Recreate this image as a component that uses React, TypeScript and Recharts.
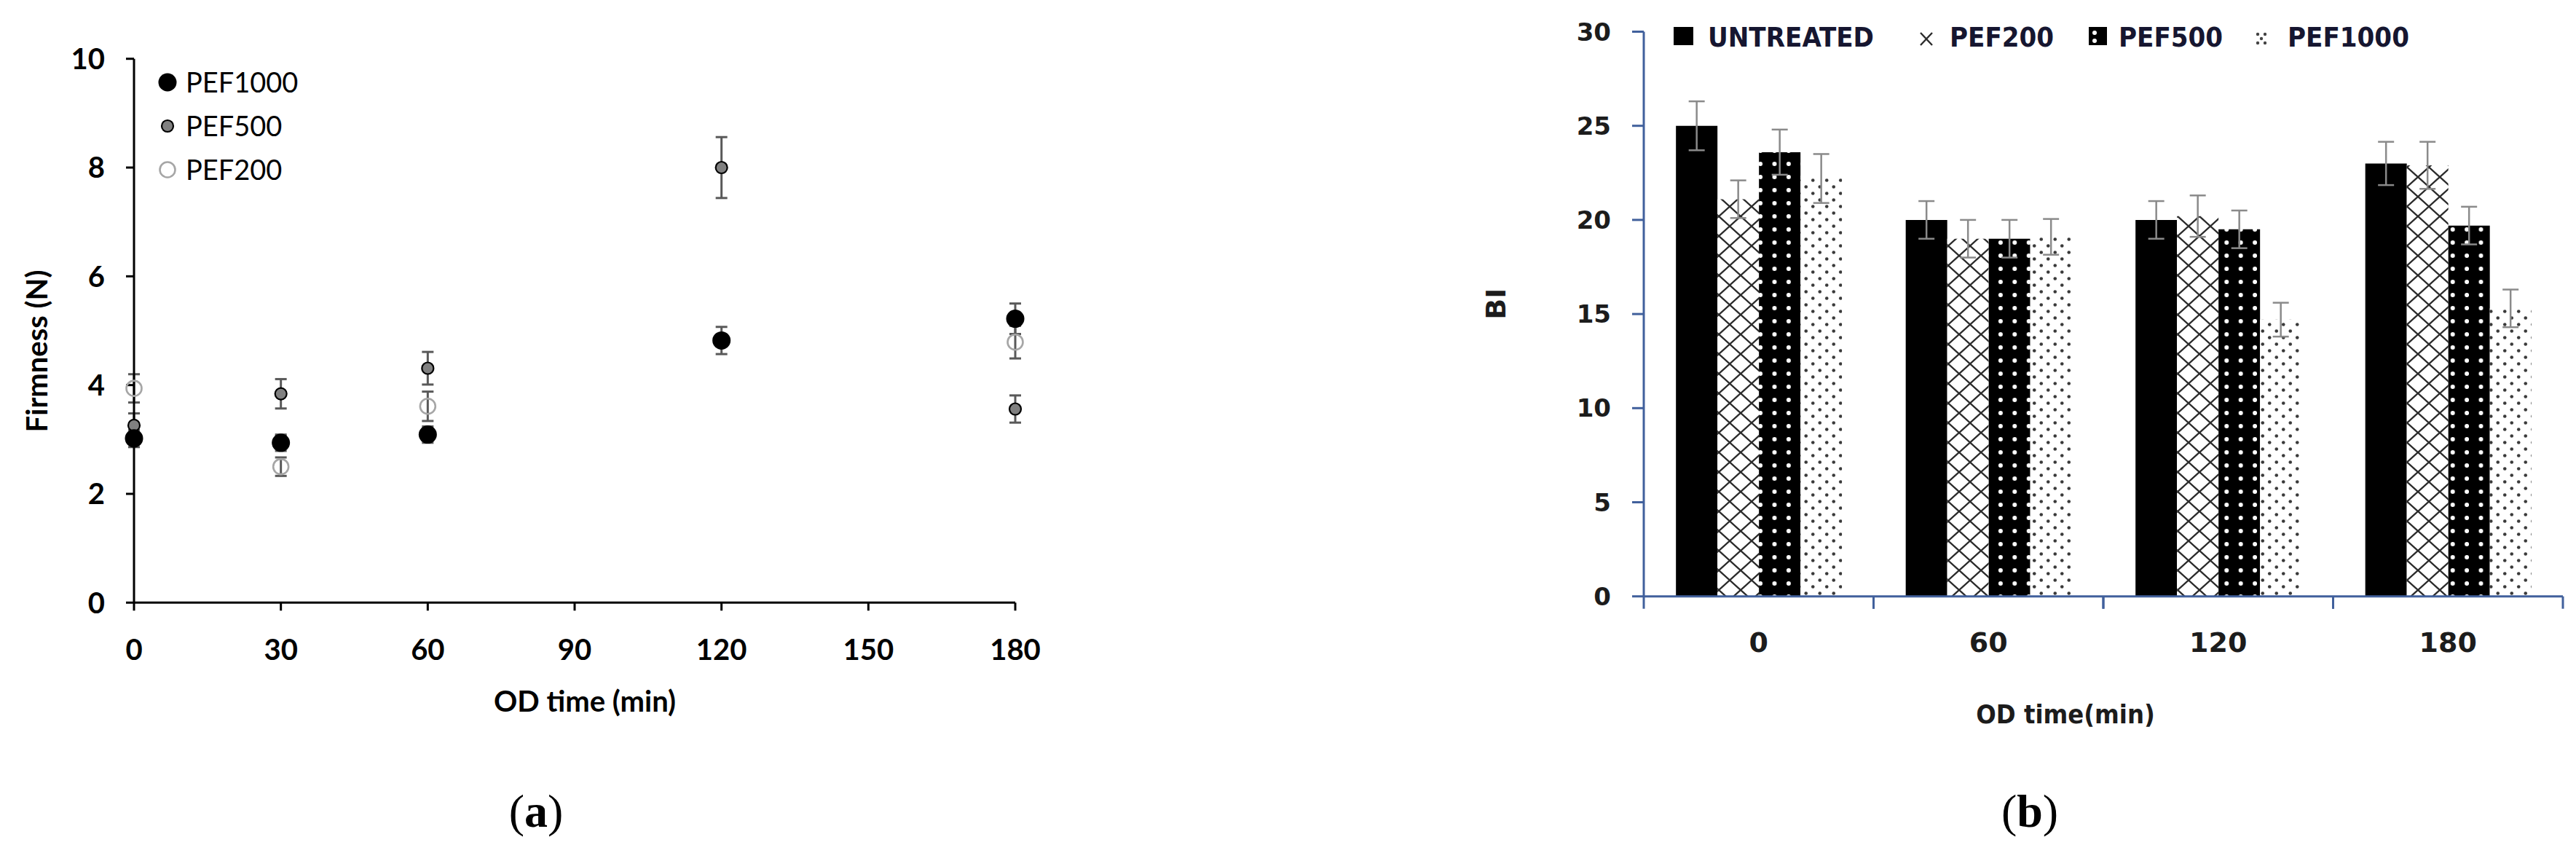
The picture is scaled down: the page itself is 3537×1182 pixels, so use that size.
import React from 'react';
import {
  ScatterChart,
  Scatter,
  XAxis,
  YAxis,
  ErrorBar,
  Legend,
  Label,
  BarChart,
  Bar,
} from 'recharts';

// ---------- Panel (a): firmness ----------
const odTimeA = [0, 30, 60, 120, 180];
const pef1000A = [3.02, 2.94, 3.09, 4.82, 5.22];
const pef1000AErr = [0.16, 0.15, 0.15, 0.25, 0.28];
const pef500A = [3.26, 3.84, 4.31, 8.0, 3.56];
const pef500AErr = [0.22, 0.27, 0.3, 0.56, 0.25];
const pef200TimeA = [0, 30, 60, 180];
const pef200A = [3.94, 2.5, 3.61, 4.79];
const pef200AErr = [0.26, 0.17, 0.27, 0.3];
const xTicksA = [0, 30, 60, 90, 120, 150, 180];
const yTicksA = [0, 2, 4, 6, 8, 10];
const legendA = ['PEF1000', 'PEF500', 'PEF200'];

// ---------- Panel (b): BI ----------
const categoriesB = ['0', '60', '120', '180'];
const untreatedB = [25.0, 20.0, 20.0, 23.0];
const untreatedBErr = [1.3, 1.0, 1.0, 1.15];
const pef200B = [21.1, 19.0, 20.2, 22.9];
const pef200BErr = [1.0, 1.0, 1.1, 1.25];
const pef500B = [23.6, 19.0, 19.5, 19.7];
const pef500BErr = [1.2, 1.0, 1.0, 1.0];
const pef1000B = [22.2, 19.1, 14.7, 15.3];
const pef1000BErr = [1.3, 0.95, 0.9, 1.0];
const yTicksB = [0, 5, 10, 15, 20, 25, 30];
const legendB = ['UNTREATED', 'PEF200', 'PEF500', 'PEF1000'];

const toPoints = (xs: number[], ys: number[], es: number[]) =>
  xs.map((x, i) => ({ x, y: ys[i], err: es[i] }));

const dataPef1000A = toPoints(odTimeA, pef1000A, pef1000AErr);
const dataPef500A = toPoints(odTimeA, pef500A, pef500AErr);
const dataPef200A = toPoints(pef200TimeA, pef200A, pef200AErr);

const barData = categoriesB.map((c, i) => ({
  time: c,
  untreated: untreatedB[i],
  untreatedErr: untreatedBErr[i],
  pef200: pef200B[i],
  pef200Err: pef200BErr[i],
  pef500: pef500B[i],
  pef500Err: pef500BErr[i],
  pef1000: pef1000B[i],
  pef1000Err: pef1000BErr[i],
}));

const FONT_A = 'Lato, "Open Sans", sans-serif';
const FONT_B = '"DejaVu Sans", sans-serif';
const FONT_B_COND = '"DejaVu Sans Condensed", "DejaVu Sans", sans-serif';
const AXIS_BLUE = '#41609c';
const ERR_A = '#595959';
const ERR_B = '#8a8a8a';

const Dot1000 = (p: any) => <circle cx={p.cx} cy={p.cy} r={12.5} fill="#000" />;
const Dot500 = (p: any) => (
  <circle cx={p.cx} cy={p.cy} r={8} fill="#808080" stroke="#000" strokeWidth={2.2} />
);
const Dot200 = (p: any) => (
  <circle cx={p.cx} cy={p.cy} r={10.5} fill="none" stroke="#a6a6a6" strokeWidth={2.6} />
);

const LegendA = () => {
  const shapes = [Dot1000, Dot500, Dot200];
  return (
    <svg width={260} height={175}>
      {legendA.map((name, i) => {
        const S = shapes[i];
        const cy = 23 + i * 60;
        return (
          <g key={name}>
            <S cx={20} cy={cy} />
            <text x={45} y={cy + 14} fontFamily={FONT_A} fontSize={38} fill="#000">
              {name}
            </text>
          </g>
        );
      })}
    </svg>
  );
};

const LegendB = () => {
  const xs = [0, 333, 570, 798];
  const textOff = [47, 46, 41, 45];
  const iconY = 9;
  const icons = [
    <rect key="u" x={0} y={iconY} width={27} height={25} fill="#000" />,
    <g key="c">
      <path
        d={`M${xs[1] + 6} ${iconY + 8} L${xs[1] + 22} ${iconY + 25} M${xs[1] + 22} ${iconY + 8} L${xs[1] + 6} ${iconY + 25}`}
        stroke="#2b2b2b"
        strokeWidth={2.4}
      />
    </g>,
    <g key="d5">
      <rect x={xs[2]} y={iconY} width={25} height={25} fill="#000" />
      <circle cx={xs[2] + 8} cy={iconY + 8} r={3} fill="#fff" />
      <circle cx={xs[2] + 8} cy={iconY + 19} r={3} fill="#fff" />
    </g>,
    <g key="d1">
      {[
        [4, 12],
        [14, 12],
        [9, 18],
        [4, 24],
        [14, 24],
      ].map(([dx, dy], k) => (
        <circle key={k} cx={xs[3] + dx} cy={iconY + dy - 2} r={2.2} fill="#444" />
      ))}
    </g>,
  ];
  return (
    <svg width={1100} height={48}>
      {icons}
      {legendB.map((name, i) => (
        <text
          key={name}
          x={xs[i] + textOff[i]}
          y={36}
          fontFamily={FONT_B_COND}
          fontWeight="bold"
          fontSize={38}
          fill="#161630"
        >
          {name}
        </text>
      ))}
    </svg>
  );
};

const CategoryTick = (props: any) => {
  const { x, y, payload, width, visibleTicksCount } = props;
  const half =
    typeof width === 'number' && visibleTicksCount
      ? width / visibleTicksCount / 2
      : payload?.offset ?? 0;
  const axisY = y - 49.3;
  return (
    <g>
      <line x1={x - half} x2={x - half} y1={axisY} y2={axisY + 17} stroke={AXIS_BLUE} strokeWidth={3} />
      <line x1={x + half} x2={x + half} y1={axisY} y2={axisY + 17} stroke={AXIS_BLUE} strokeWidth={3} />
      <text
        x={x}
        y={y}
        dy="0.71em"
        textAnchor="middle"
        fontFamily={FONT_B}
        fontWeight="bold"
        fontSize={38}
        fill="#1c1c1c"
      >
        {payload.value}
      </text>
    </g>
  );
};

const PanelA = () => (
  <ScatterChart
    width={1500}
    height={1000}
    margin={{ top: 80.7, right: 106, bottom: 0, left: 0 }}
  >
    <XAxis
      type="number"
      dataKey="x"
      domain={[0, 180]}
      ticks={xTicksA}
      interval={0}
      height={172.7}
      axisLine={{ stroke: '#000', strokeWidth: 3 }}
      tickLine={{ stroke: '#000', strokeWidth: 3 }}
      tickSize={11}
      tickMargin={39}
      tick={{ fontFamily: FONT_A, fontWeight: 'bold', fontSize: 40, fill: '#000' }}
    >
      <Label
        value="OD time (min)"
        position="insideTop"
        offset={121}
        dx={14}
        fontFamily={FONT_A}
        fontWeight="bold"
        fontSize={40}
        fill="#000"
      />
    </XAxis>
    <YAxis
      type="number"
      dataKey="y"
      domain={[0, 10]}
      ticks={yTicksA}
      interval={0}
      width={184}
      axisLine={{ stroke: '#000', strokeWidth: 3 }}
      tickLine={{ stroke: '#000', strokeWidth: 3 }}
      tickSize={11}
      tickMargin={29}
      tick={{ fontFamily: FONT_A, fontWeight: 'bold', fontSize: 40, fill: '#000' }}
    >
      <Label
        value="Firmness (N)"
        angle={-90}
        position="center"
        dx={-41}
        dy={28}
        fontFamily={FONT_A}
        fontWeight="bold"
        fontSize={40}
        fill="#000"
      />
    </YAxis>
    <Legend
      layout="horizontal"
      verticalAlign="middle"
      align="center"
      wrapperStyle={{ top: 90, left: 210, width: 260, height: 175 }}
      content={() => <LegendA />}
    />
    <Scatter name="PEF200" data={dataPef200A} shape={Dot200} isAnimationActive={false}>
      <ErrorBar dataKey="err" direction="y" width={8} stroke={ERR_A} strokeWidth={3} />
    </Scatter>
    <Scatter name="PEF500" data={dataPef500A} shape={Dot500} isAnimationActive={false}>
      <ErrorBar dataKey="err" direction="y" width={8} stroke={ERR_A} strokeWidth={3} />
    </Scatter>
    <Scatter name="PEF1000" data={dataPef1000A} shape={Dot1000} isAnimationActive={false}>
      <ErrorBar dataKey="err" direction="y" width={8} stroke={ERR_A} strokeWidth={3} />
    </Scatter>
  </ScatterChart>
);

const PanelB = () => (
  <BarChart
    width={1537}
    height={1182}
    data={barData}
    margin={{ top: 43.5, right: 18, bottom: 0, left: 0 }}
    barCategoryGap="14%"
    barGap={0}
  >
    <defs>
      <pattern id="pefCross" width={30} height={27} patternUnits="userSpaceOnUse">
        <rect width={30} height={27} fill="#fff" />
        <path
          d="M-3 -2.7 L33 29.7 M33 -2.7 L-3 29.7"
          stroke="#2b2b2b"
          strokeWidth={2.4}
        />
      </pattern>
      <pattern id="pef500Dots" width={19.4} height={18} patternUnits="userSpaceOnUse">
        <rect width={19.4} height={18} fill="#000" />
        <circle cx={9.7} cy={9} r={3} fill="#fff" />
      </pattern>
      <pattern id="pef1000Dots" width={19} height={18} patternUnits="userSpaceOnUse">
        <rect width={19} height={18} fill="#fff" />
        <circle cx={4.75} cy={4.5} r={2.3} fill="#3a3a3a" />
        <circle cx={14.25} cy={13.5} r={2.3} fill="#3a3a3a" />
      </pattern>
    </defs>
    <XAxis
      dataKey="time"
      interval={0}
      height={363.3}
      axisLine={{ stroke: AXIS_BLUE, strokeWidth: 3 }}
      tickLine={false}
      tickSize={17}
      tickMargin={32.3}
      tick={<CategoryTick />}
    >
      <Label
        value="OD time(min)"
        position="insideTop"
        offset={149}
        dx={-52}
        fontFamily={FONT_B_COND}
        fontWeight="bold"
        fontSize={36}
        fill="#1c1c1c"
      />
    </XAxis>
    <YAxis
      type="number"
      domain={[0, 30]}
      ticks={yTicksB}
      interval={0}
      width={257}
      axisLine={{ stroke: AXIS_BLUE, strokeWidth: 3 }}
      tickLine={{ stroke: AXIS_BLUE, strokeWidth: 3 }}
      tickSize={16}
      tickMargin={29}
      tick={{ fontFamily: FONT_B, fontWeight: 'bold', fontSize: 34, fill: '#1c1c1c' }}
    >
      <Label
        value="BI"
        angle={-90}
        position="center"
        dx={-74.5}
        dy={-14}
        fontFamily={FONT_B}
        fontWeight="bold"
        fontSize={38}
        fill="#1c1c1c"
      />
    </YAxis>
    <Legend
      layout="horizontal"
      verticalAlign="middle"
      align="center"
      wrapperStyle={{ top: 28, left: 298, width: 1100, height: 48 }}
      content={() => <LegendB />}
    />
    <Bar dataKey="untreated" name="UNTREATED" fill="#000" isAnimationActive={false}>
      <ErrorBar dataKey="untreatedErr" direction="y" width={11} stroke={ERR_B} strokeWidth={2.5} />
    </Bar>
    <Bar dataKey="pef200" name="PEF200" fill="url(#pefCross)" isAnimationActive={false}>
      <ErrorBar dataKey="pef200Err" direction="y" width={11} stroke={ERR_B} strokeWidth={2.5} />
    </Bar>
    <Bar dataKey="pef500" name="PEF500" fill="url(#pef500Dots)" isAnimationActive={false}>
      <ErrorBar dataKey="pef500Err" direction="y" width={11} stroke={ERR_B} strokeWidth={2.5} />
    </Bar>
    <Bar dataKey="pef1000" name="PEF1000" fill="url(#pef1000Dots)" isAnimationActive={false}>
      <ErrorBar dataKey="pef1000Err" direction="y" width={11} stroke={ERR_B} strokeWidth={2.5} />
    </Bar>
  </BarChart>
);

const Caption = ({ x, letter }: { x: number; letter: string }) => (
  <text
    x={x}
    y={1135}
    textAnchor="middle"
    fontFamily='"Liberation Serif", "DejaVu Serif", serif'
    fontSize={64}
    fill="#000"
  >
    (<tspan fontWeight="bold">{letter}</tspan>)
  </text>
);

export default function App() {
  return (
    <div
      style={{
        position: 'absolute',
        left: 0,
        top: 0,
        width: 3537,
        height: 1182,
        background: '#fff',
        overflow: 'hidden',
      }}
    >
      <div style={{ position: 'absolute', left: 0, top: 0 }}>
        <PanelA />
      </div>
      <div style={{ position: 'absolute', left: 2000, top: 0 }}>
        <PanelB />
      </div>
      <svg
        width={3537}
        height={1182}
        style={{ position: 'absolute', left: 0, top: 0, pointerEvents: 'none' }}
      >
        <Caption x={736} letter="a" />
        <Caption x={2787} letter="b" />
      </svg>
    </div>
  );
}
